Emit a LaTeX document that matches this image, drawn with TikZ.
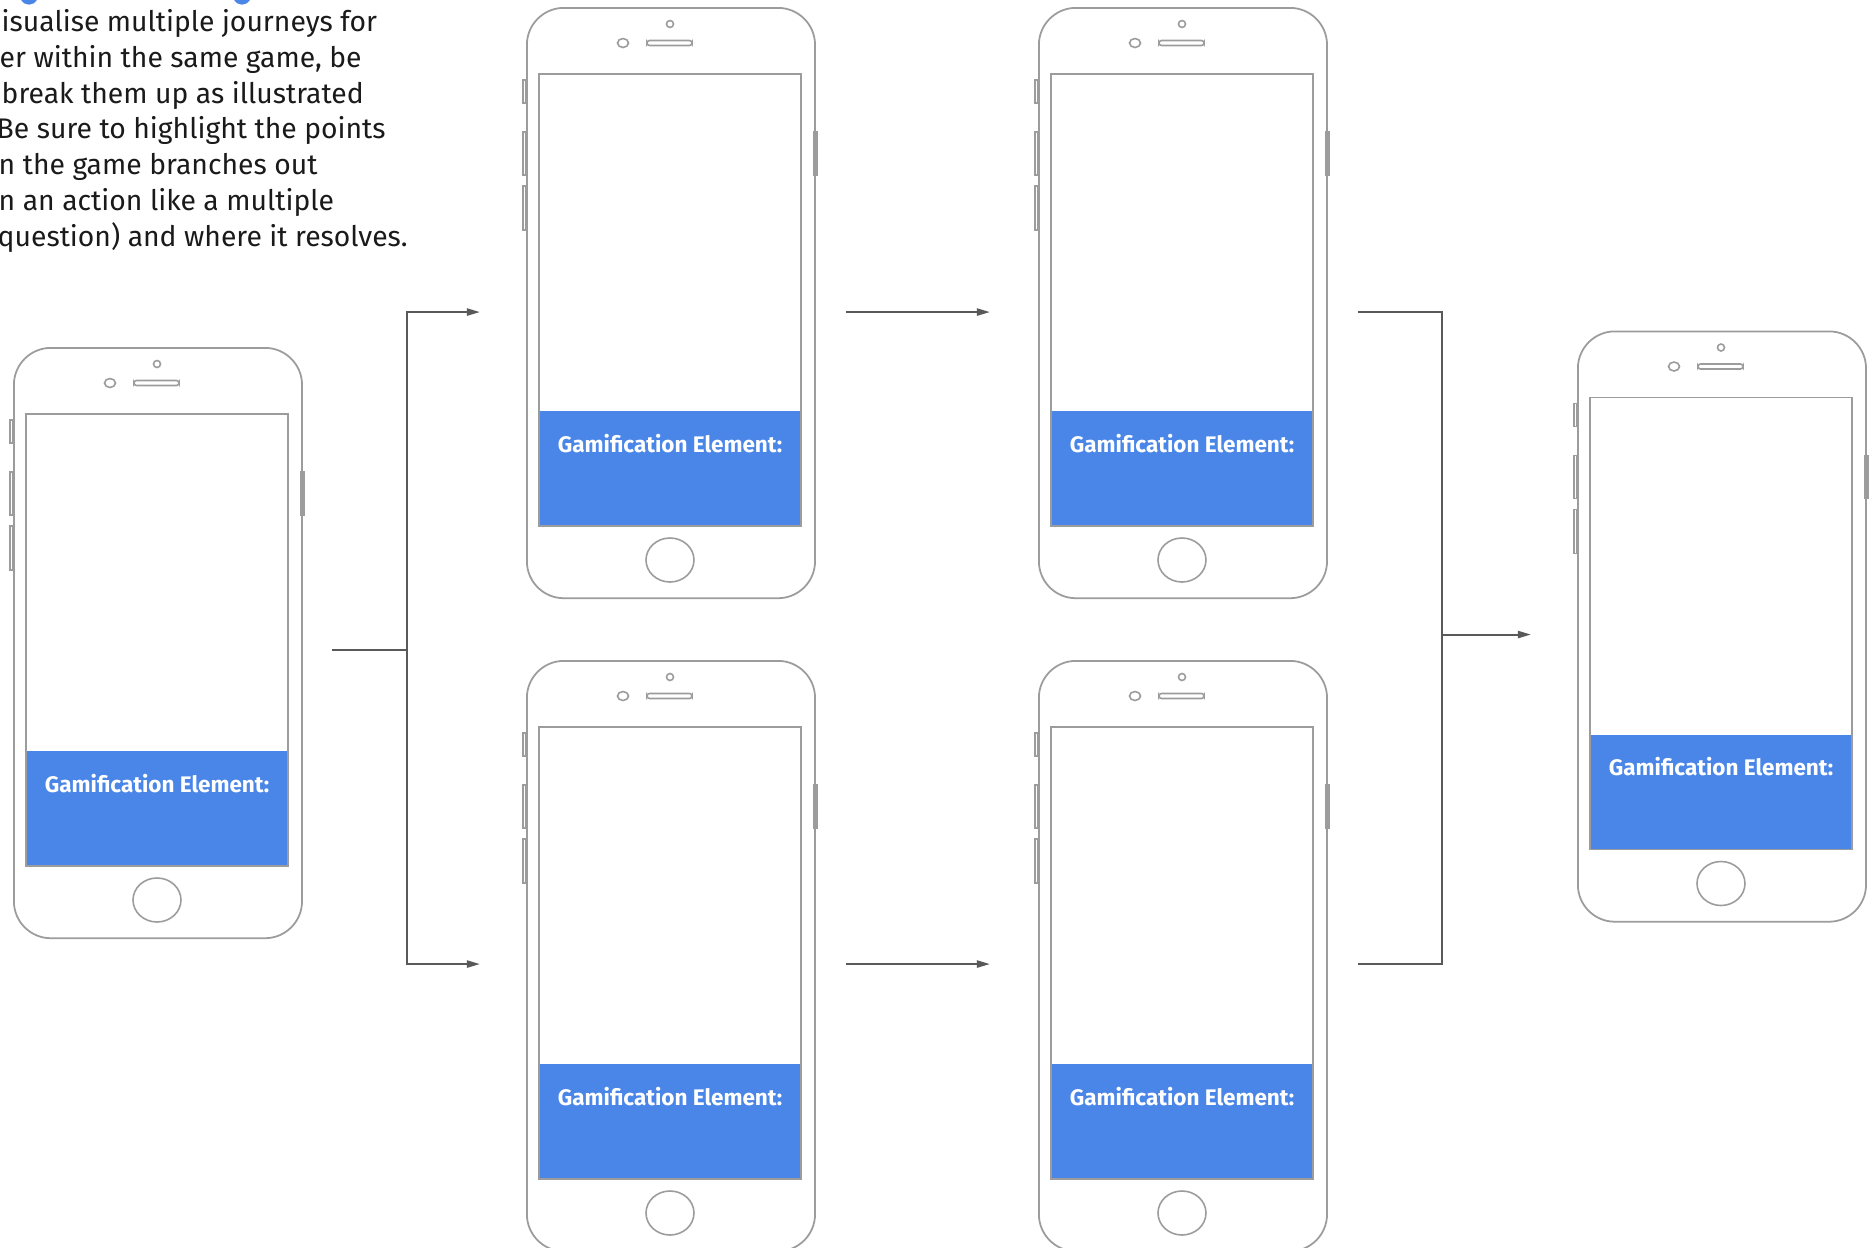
\documentclass[tikz,border=0pt]{standalone}
\usepackage{fontspec}
\setmainfont{Fira Sans}
\usetikzlibrary{arrows.meta,calc}

\definecolor{gamblue}{HTML}{4A86E8}
\definecolor{phonegray}{HTML}{9C9C9C}
\definecolor{conngray}{HTML}{595959}
\definecolor{introtext}{HTML}{1A1A1A}

\tikzset{
  phonebody/.style={draw=phonegray, line width=0.5pt, rounded corners=0.37cm,
    minimum width=2.88cm, minimum height=5.9cm, inner sep=0pt, anchor=north west},
  phoneline/.style={draw=phonegray, line width=0.45pt},
  gamtext/.style={text=white, font=\fontsize{6.4}{7.5}\selectfont\bfseries,
    inner sep=0pt, anchor=base},
  conn/.style={draw=conngray, line width=0.6pt},
  arrowconn/.style={conn, -{Triangle[length=0.13cm,width=0.07cm]}},
  introline/.style={anchor=base west, inner sep=0pt, text=introtext,
    font=\fontsize{8.05}{10}\selectfont},
}

% one handset: body node #1 with its top left corner at (#2,#3)
\newcommand\drawphone[3]{%
  \node[phonebody] (#1) at (#2,#3) {};
  \begin{scope}[shift={(#2,#3)}]
    % volume and power keys
    \draw[phoneline] (-3,73) rectangle (0,96);
    \draw[phoneline] (-3,125) rectangle (0,168);
    \draw[phoneline] (-3,179) rectangle (0,223);
    \draw[phoneline] (288,125) rectangle (291,168);
    % camera, lens and speaker
    \draw[phoneline] (144,17) circle (3.5);
    \draw[phoneline] (97,36) ellipse (5.5 and 4.5);
    \draw[phoneline, rounded corners=0.025cm] (121,33.5) rectangle (166,38.5);
    % screen with its blue panel
    \fill[gamblue] (13,404) rectangle (275,519);
    \draw[phoneline] (13,67) rectangle (275,519);
    \node[gamtext] (#1-label) at (144,445) {Gamification Element:};
    % home button
    \draw[phoneline] (144,553) ellipse (24 and 22);
  \end{scope}
}

\begin{document}
\begin{tikzpicture}[x=0.01cm, y=-0.01cm]
  \useasboundingbox (0,0) rectangle (1871,1248);
  \fill[white] (0,0) rectangle (1871,1248);

  % heading descenders along the top edge
  \draw[gamblue, line width=1.6pt, line cap=round] (23,-2) .. controls (26,3) and (32,3) .. (35,-2);
  \draw[gamblue, line width=1.6pt, line cap=round] (236,-2) .. controls (239,3) and (245,3) .. (248,-2);

  % introductory text
  \node[introline] (intro1) at (1,31)   {isualise multiple journeys for};
  \node[introline] (intro2) at (-1,67)  {er within the same game, be};
  \node[introline] (intro3) at (1,103)  {break them up as illustrated};
  \node[introline] (intro4) at (-4,138) {Be sure to highlight the points};
  \node[introline] (intro5) at (-2,174) {n the game branches out};
  \node[introline] (intro6) at (-2,210) {n an action like a multiple};
  \node[introline] (intro7) at (-3,246) {question) and where it resolves.};

  % handsets
  \drawphone{p0}{13}{347}
  \drawphone{p1}{526}{7}
  \drawphone{p2}{1038}{7}
  \drawphone{p3}{526}{660}
  \drawphone{p4}{1038}{660}
  \drawphone{p5}{1577}{330.5}

  % branching out
  \draw[conn] ($(p0.east)+(29,7)$) -- ++(75,0) coordinate (fork);
  \draw[arrowconn] (fork) |- ($(p1.west)+(-46,9)$);
  \draw[arrowconn] (fork) |- ($(p3.west)+(-46,8)$);

  % parallel paths
  \draw[arrowconn] ($(p1.east)+(30,9)$) -- ($(p2.west)+(-48,9)$);
  \draw[arrowconn] ($(p3.east)+(30,8)$) -- ($(p4.west)+(-48,8)$);

  % resolving
  \coordinate (merge) at ($(p5.west)+(-135,8)$);
  \draw[conn] ($(p2.east)+(30,9)$) -| (merge);
  \draw[conn] ($(p4.east)+(30,8)$) -| (merge);
  \draw[arrowconn] (merge) -- ($(p5.west)+(-46,8)$);
\end{tikzpicture}
\end{document}
